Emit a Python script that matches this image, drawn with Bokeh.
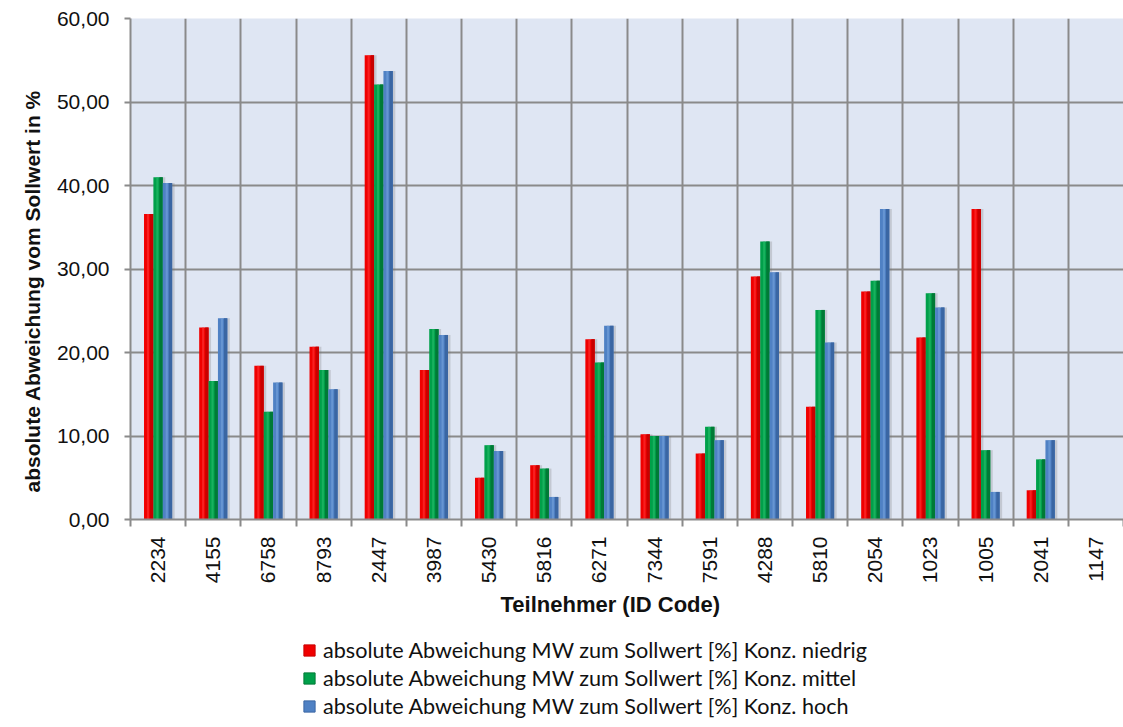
import math
import numpy as np
from bokeh.plotting import figure
from bokeh.layouts import column
from bokeh.models import FixedTicker, Range1d, Legend, LegendItem, ColumnDataSource, Title
from bokeh.embed import file_html
from bokeh.resources import INLINE

# ---------------- data ----------------
codes = ["2234", "4155", "6758", "8793", "2447", "3987", "5430", "5816", "6271",
         "7344", "7591", "4288", "5810", "2054", "1023", "1005", "2041", "1147"]
nan = float("nan")
niedrig = [36.6, 23.0, 18.4, 20.7, 55.6, 17.9, 5.0, 6.5, 21.6,
           10.2, 7.9, 29.1, 13.5, 27.3, 21.8, 37.2, 3.5, nan]
mittel = [41.0, 16.6, 12.9, 17.9, 52.1, 22.8, 8.9, 6.1, 18.8,
          10.0, 11.1, 33.3, 25.1, 28.6, 27.1, 8.3, 7.2, nan]
hoch = [40.3, 24.1, 16.4, 15.6, 53.7, 22.1, 8.2, 2.7, 23.2,
        10.0, 9.5, 29.6, 21.2, 37.2, 25.4, 3.3, 9.5, nan]
series_names = [
    "absolute Abweichung MW zum Sollwert [%] Konz. niedrig",
    "absolute Abweichung MW zum Sollwert [%] Konz. mittel",
    "absolute Abweichung MW zum Sollwert [%] Konz. hoch",
]
y_ticks = [0, 10, 20, 30, 40, 50, 60]
y_tick_labels = ["0,00", "10,00", "20,00", "30,00", "40,00", "50,00", "60,00"]
x_title = "Teilnehmer (ID Code)"
y_title = "absolute Abweichung vom Sollwert in %"

# ---------------- styles ----------------
base_colors = ["#f00000", "#00a04a", "#4f81c4"]
dark_colors = ["#c80000", "#007a36", "#3a66a3"]
light_colors = ["#ff3a3a", "#2dc070", "#7aa6de"]
grid_col = "#8a8a8a"
font = "Liberation Sans"

n = len(codes)
centers = np.arange(n) + 0.5
bw = 0.17

p = figure(width=1123, height=630, output_backend="svg", toolbar_location=None,
           x_range=Range1d(0, n), y_range=Range1d(0, 60),
           min_border_left=130, min_border_right=0, min_border_top=18,
           min_border_bottom=111)
p.background_fill_color = "#dfe6f3"
p.border_fill_color = "white"
p.outline_line_color = None

# x axis: labels at centers, ticks/grid at category boundaries
xt = FixedTicker(ticks=list(centers), minor_ticks=list(range(n + 1)))
p.xaxis.ticker = xt
p.xaxis.major_label_overrides = {float(c): lab for c, lab in zip(centers, codes)}
p.xaxis.major_label_orientation = math.pi / 2
p.xaxis.major_tick_line_color = None
p.xaxis.minor_tick_line_color = grid_col
p.xaxis.minor_tick_line_width = 2
p.xaxis.minor_tick_out = 7
p.xaxis.minor_tick_in = 0
p.xaxis.axis_line_color = grid_col
p.xaxis.axis_line_width = 2
p.xaxis.major_label_text_font = font
p.xaxis.major_label_text_font_size = "21px"
p.xaxis.major_label_text_color = "#111111"
p.xaxis.major_label_standoff = 10

p.xgrid.grid_line_color = None
p.xgrid.minor_grid_line_color = grid_col
p.xgrid.minor_grid_line_width = 2

p.yaxis.ticker = FixedTicker(ticks=y_ticks)
p.yaxis.major_label_overrides = {t: lab for t, lab in zip(y_ticks, y_tick_labels)}
p.yaxis.minor_tick_line_color = None
p.yaxis.major_tick_line_color = grid_col
p.yaxis.major_tick_line_width = 2
p.yaxis.major_tick_out = 6
p.yaxis.major_tick_in = 0
p.yaxis.axis_line_color = grid_col
p.yaxis.axis_line_width = 2
p.yaxis.major_label_text_font = font
p.yaxis.major_label_text_font_size = "21px"
p.yaxis.major_label_text_color = "#111111"
p.yaxis.major_label_standoff = 15

p.ygrid.grid_line_color = grid_col
p.ygrid.grid_line_width = 2

# axis titles as Titles so they can be placed like in the reference
ytitle = Title(text=y_title, align="left", offset=27, standoff=20,
               text_font=font, text_font_size="21px", text_font_style="bold",
               text_color="#111111")
p.add_layout(ytitle, "left")
xtitle = Title(text=x_title, align="left", offset=370, standoff=6,
               text_font=font, text_font_size="22px", text_font_style="bold",
               text_color="#111111")
p.add_layout(xtitle, "below")

all_series = [niedrig, mittel, hoch]
sources = []
for i, vals in enumerate(all_series):
    off = (i - 1) * bw
    sources.append(ColumnDataSource(dict(x=centers + off, top=vals)))

# shadows
for src in sources:
    src_sh = ColumnDataSource(dict(x=np.array(src.data["x"]) + 0.045, top=src.data["top"]))
    p.vbar(x="x", top="top", bottom=0, width=bw, source=src_sh,
           fill_color="#6f6f6f", fill_alpha=0.25, line_color=None)
for i, src in enumerate(sources):
    p.vbar(x="x", top="top", bottom=0, width=bw, source=src,
           fill_color=base_colors[i], line_color=None)
    xs = np.array(src.data["x"])
    tops = src.data["top"]
    dsrc = ColumnDataSource(dict(x=xs + bw * 0.32, top=tops))
    p.vbar(x="x", top="top", bottom=0, width=bw * 0.36, source=dsrc,
           fill_color=dark_colors[i], line_color=None)
    lsrc = ColumnDataSource(dict(x=xs - bw * 0.08, top=tops))
    p.vbar(x="x", top="top", bottom=0, width=bw * 0.22, source=lsrc,
           fill_color=light_colors[i], fill_alpha=0.55, line_color=None)

# ---------------- legend strip ----------------
lg = figure(width=1123, height=97, output_backend="svg", toolbar_location=None,
            x_range=Range1d(0, 1), y_range=Range1d(0, 1),
            x_axis_type=None, y_axis_type=None,
            min_border_left=0, min_border_right=0, min_border_top=0, min_border_bottom=0)
lg.outline_line_color = None
lg.xgrid.visible = False
lg.ygrid.visible = False
lg.background_fill_color = "white"
lg.border_fill_color = "white"
leg_renderers = []
for i in range(3):
    r = lg.scatter(x=[nan], y=[nan], marker="square", size=12,
                   fill_color=base_colors[i], line_color=dark_colors[i], line_width=1)
    leg_renderers.append(r)
items = [LegendItem(label=name, renderers=[r]) for name, r in zip(series_names, leg_renderers)]
legend = Legend(items=items, location=(165, 7), orientation="vertical",
                label_text_font="Lato", label_text_font_size="21.6px",
                label_text_color="#111111", glyph_width=28, glyph_height=28,
                spacing=0, padding=0, margin=0, border_line_color=None,
                background_fill_alpha=0, label_standoff=0)
lg.add_layout(legend, "center")

layout = column(p, lg, spacing=0)
open("out.html", "w").write(file_html(layout, INLINE))
